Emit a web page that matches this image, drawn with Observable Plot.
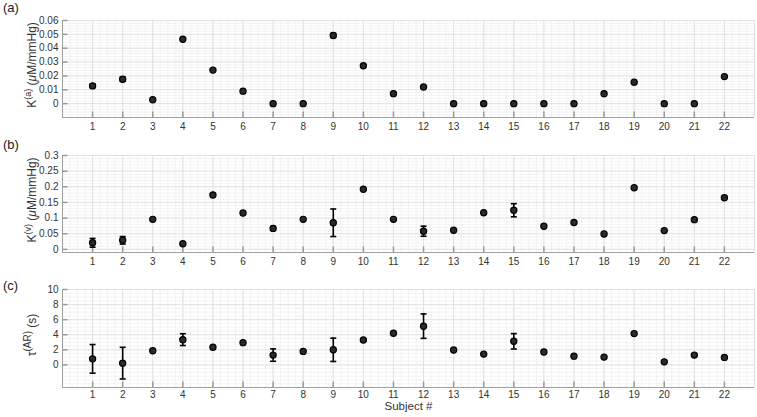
<!DOCTYPE html>
<html><head><meta charset="utf-8">
<script src="https://cdn.jsdelivr.net/npm/d3@7"></script>
<script src="https://cdn.jsdelivr.net/npm/@observablehq/plot@0.6"></script>
<style>
body{margin:0;background:#fff;font-family:"Liberation Sans",Arial,sans-serif}
#chart{position:relative;width:757px;height:417px;overflow:hidden}
.panel{position:absolute;left:0}
.letter{position:absolute;left:3px;font-size:13px;color:#222;line-height:14px}
</style></head><body><div id="chart"></div>
<script>
const subjects = [1,2,3,4,5,6,7,8,9,10,11,12,13,14,15,16,17,18,19,20,21,22];
const kaValues = [0.0128,0.0176,0.0028,0.0465,0.0242,0.009,0,0,0.0492,0.0273,0.0072,0.012,0,0,0,0,0,0.0072,0.0155,0,0,0.0195];
const kaErrors = [0.0013,0.0015,0,0,0,0,0,0,0.0015,0,0,0,0,0.001,0,0,0,0,0,0,0,0];
const kvValues = [0.021,0.029,0.096,0.018,0.174,0.116,0.067,0.096,0.085,0.192,0.096,0.058,0.061,0.117,0.125,0.074,0.086,0.049,0.197,0.06,0.095,0.165];
const kvErrors = [0.014,0.012,0,0.004,0,0,0.006,0,0.044,0,0,0.016,0,0,0.021,0,0,0,0,0,0,0];
const tauValues = [0.8,0.23,1.87,3.35,2.33,2.95,1.3,1.79,2.0,3.3,4.2,5.14,1.97,1.43,3.13,1.7,1.16,1.03,4.15,0.4,1.3,0.99];
const tauErrors = [1.9,2.1,0,0.78,0,0,0.82,0,1.55,0,0,1.62,0,0,1.02,0,0,0,0,0,0,0];
const kaTicks = [0,0.01,0.02,0.03,0.04,0.05,0.06];
const kvTicks = [0,0.05,0.1,0.15,0.2,0.25,0.3];
const tauTicks = [0,2,4,6,8,10];

const capSym = {draw(ctx){ctx.moveTo(-3,0);ctx.lineTo(3,0);}};
const tickUp = {draw(ctx){ctx.moveTo(0,0);ctx.lineTo(0,-6);}};
const tickRight = {draw(ctx){ctx.moveTo(0,0);ctx.lineTo(5,0);}};

const chart = document.getElementById("chart");

function panel(cfg){
  const rows = subjects.map((s,i)=>({s, v:cfg.values[i], e:cfg.errors[i]}));
  const errRows = rows.filter(d=>d.e>0).map(d=>({s:d.s, lo:d.v-d.e, hi:d.v+d.e}));
  const [y0,y1] = cfg.yDomain;
  const yMinor = d3.range(y0, y1 + cfg.yMinorStep/2, cfg.yMinorStep);
  const xMinor = d3.range(0, 23.01, 0.25);
  const xMajor = d3.range(0, 24, 1);
  const marks = [
    Plot.ruleX(xMinor, {stroke:"#f2f2f2"}),
    Plot.ruleY(yMinor, {stroke:"#f2f2f2"}),
    Plot.ruleX(xMajor, {stroke:"#e2e2e2"}),
    Plot.ruleY(cfg.yTicks, {stroke:"#e2e2e2"}),
    Plot.ruleX([0], {stroke:"#a0a0a0"}),
    Plot.ruleY([y0], {stroke:"#a0a0a0"}),
    Plot.dotX(subjects, {x:d=>d, frameAnchor:"bottom", symbol:tickUp, stroke:"#9a9a9a", fill:"none"}),
    Plot.dotY(cfg.yTicks, {y:d=>d, frameAnchor:"left", symbol:tickRight, stroke:"#9a9a9a", fill:"none"}),
    Plot.axisX({ticks:subjects, tickSize:0, tickPadding:cfg.xPad, label:null, tickFormat:d=>d}),
    Plot.axisY({ticks:cfg.yTicks, tickSize:0, tickPadding:4, label:null, tickFormat:d3.format("~g")}),
    Plot.ruleX(errRows, {x:"s", y1:"lo", y2:"hi", stroke:"#000", strokeWidth:1.6}),
    Plot.dot(errRows, {x:"s", y:"hi", symbol:capSym, stroke:"#000", strokeWidth:1.6, fill:"none"}),
    Plot.dot(errRows, {x:"s", y:"lo", symbol:capSym, stroke:"#000", strokeWidth:1.6, fill:"none"}),
    Plot.dot(rows, {x:"s", y:"v", r:3.1, fill:"#2a2a2a", stroke:"#000", strokeWidth:1.2})
  ];
  if (cfg.xLabel) marks.push(Plot.text([cfg.xLabel], {text:d=>d, frameAnchor:"bottom", dy:22, fontSize:11.5, fill:"#333"}));
  const svg = Plot.plot({
    width:757, height:cfg.height,
    marginLeft:62, marginRight:3, marginTop:cfg.marginTop, marginBottom:cfg.marginBottom,
    x:{domain:[0,23], axis:null},
    y:{domain:cfg.yDomain, axis:null},
    style:{fontFamily:'"Liberation Sans", Arial, sans-serif', fontSize:"10px", color:"#333", background:"#fff"},
    marks
  });
  svg.classList.add("panel");
  svg.style.top = cfg.top + "px";
  const t = d3.select(svg).append("text")
    .attr("transform", `translate(36,${cfg.labelY}) rotate(-90)`)
    .attr("text-anchor","middle").attr("font-size",12).attr("fill","#333")
    .attr("font-family",'"Liberation Sans", Arial, sans-serif');
  cfg.label(t);
  chart.appendChild(svg);
  const L = document.createElement("div");
  L.className = "letter"; L.style.top = cfg.letterTop + "px"; L.textContent = cfg.letter;
  chart.appendChild(L);
}

panel({values:kaValues, errors:kaErrors, yDomain:[-0.01,0.06], yTicks:kaTicks, yMinorStep:0.002, xPad:5,
  top:0, height:135, marginTop:20, marginBottom:18, labelY:65, letter:"(a)", letterTop:1,
  label:t=>{t.append("tspan").text("K");t.append("tspan").attr("baseline-shift","super").attr("font-size",9).text("(a)");
    t.append("tspan").text(" (");t.append("tspan").attr("font-style","italic").text("μ");t.append("tspan").text("M/mmHg)");}});
panel({values:kvValues, errors:kvErrors, yDomain:[-0.01,0.3], yTicks:kvTicks, yMinorStep:0.01, xPad:5,
  top:135, height:135, marginTop:20, marginBottom:18, labelY:65, letter:"(b)", letterTop:138,
  label:t=>{t.append("tspan").text("K");t.append("tspan").attr("baseline-shift","super").attr("font-size",9).text("(v)");
    t.append("tspan").text(" (");t.append("tspan").attr("font-style","italic").text("μ");t.append("tspan").text("M/mmHg)");}});
panel({values:tauValues, errors:tauErrors, yDomain:[-3,10], yTicks:tauTicks, yMinorStep:0.5, xPad:3,
  top:270, height:147, marginTop:19, marginBottom:30, labelY:65, letter:"(c)", letterTop:279, xLabel:"Subject #",
  label:t=>{t.append("tspan").text("τ");t.append("tspan").attr("baseline-shift","super").attr("font-size",10).text("(AR)");
    t.append("tspan").text(" (s)");}});
</script></body></html>
